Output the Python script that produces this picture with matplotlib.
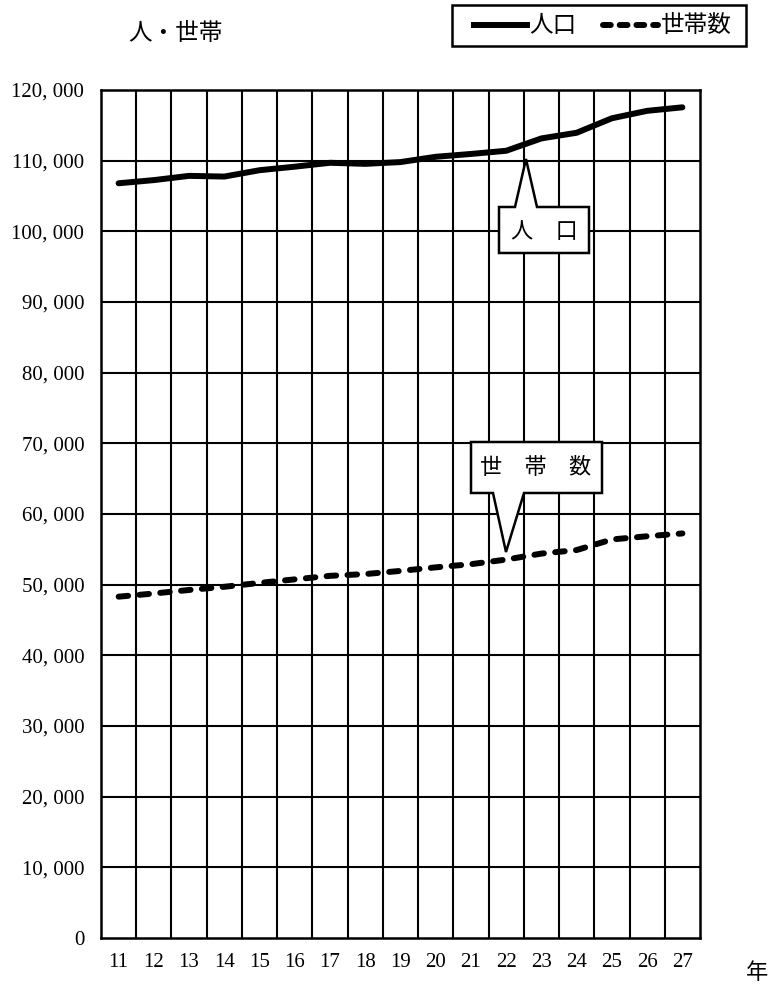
import matplotlib
matplotlib.use("Agg")
import matplotlib.pyplot as plt
from matplotlib.patches import Polygon, Rectangle
from matplotlib.lines import Line2D

plt.rcParams['font.family'] = ['Noto Sans CJK JP', 'DejaVu Sans']

years = [11, 12, 13, 14, 15, 16, 17, 18, 19, 20, 21, 22, 23, 24, 25, 26, 27]
year_labels = [str(y) for y in years]
population = [106800, 107250, 107850, 107750, 108650, 109150, 109700, 109550, 109800,
              110550, 110950, 111400, 113150, 113950, 116000, 117050, 117550]
households = [48300, 48750, 49250, 49700, 50250, 50750, 51250, 51500, 51950,
              52450, 52900, 53550, 54400, 54900, 56400, 56850, 57250]
y_ticks = list(range(0, 120001, 10000))
y_tick_labels = ["0"] + [f"{v // 1000}, 000" for v in y_ticks[1:]]

W, H = 771, 988
fig = plt.figure(figsize=(W / 100, H / 100), dpi=100)
fig.patch.set_facecolor('white')

def fx(px):
    return px / W

def fy(py):
    return 1 - py / H

L, R, T, B = 101, 700, 90, 938
ax = fig.add_axes([fx(L), fy(B), fx(R) - fx(L), fy(T) - fy(B)])

n = len(years)
xpos = list(range(n))
ax.set_xlim(-0.5, n - 0.5)
ax.set_ylim(0, 120000)

# grid
for i in range(1, n):
    ax.axvline(i - 0.5, color='black', lw=1.5, zorder=1)
for v in y_ticks[1:-1]:
    ax.axhline(v, color='black', lw=1.5, zorder=1)
for s in ax.spines.values():
    s.set_linewidth(1.8)
    s.set_color('black')

ax.plot(xpos, population, color='black', lw=4.3, solid_capstyle='round',
        solid_joinstyle='round', zorder=3)
ax.plot(xpos, households, color='black', lw=4.3, dashes=(1.6, 1.9),
        dash_capstyle='round', zorder=3)

serif = 'Liberation Serif'
ax.set_xticks(xpos)
ax.set_xticklabels(year_labels, fontfamily=serif, fontsize=15)
ax.set_yticks(y_ticks)
ax.set_yticklabels(y_tick_labels, fontfamily=serif, fontsize=15)
ax.tick_params(length=0, pad=12)
ax.tick_params(axis='x', pad=11)

# callouts (pixel-positioned shapes)
def callout(box, base, apex, text, tx, ty, fs):
    x0, y0, x1, y1 = box
    bx0, bx1, by = base
    if apex[1] < y0:  # pointer up
        pts = [(x0, y0), (bx0, y0), apex, (bx1, y0), (x1, y0), (x1, y1), (x0, y1)]
    else:
        pts = [(x0, y0), (x1, y0), (x1, y1), (bx1, y1), apex, (bx0, y1), (x0, y1)]
    poly = Polygon([(fx(a), fy(b)) for a, b in pts], closed=True,
                   transform=fig.transFigure, facecolor='white',
                   edgecolor='black', lw=1.8, zorder=5)
    fig.patches.append(poly)
    fig.text(fx(tx), fy(ty), text, ha='center', va='center', fontsize=fs, zorder=6)

callout((499, 207, 589, 253), (515, 537, 207), (526, 159), "人　口", 544, 231, 16)
callout((471, 442, 602, 493), (493, 524, 493), (506, 552), "世　帯　数", 536, 468, 16)

# top-left label
fig.text(fx(128), fy(34), "人・世帯", ha='left', va='center', fontsize=17)
# x unit
fig.text(fx(757), fy(972), "年", ha='center', va='center', fontsize=16)

# legend box
fig.patches.append(Rectangle((fx(452), fy(46)), fx(746) - fx(452), fy(5) - fy(46),
                             transform=fig.transFigure, facecolor='white',
                             edgecolor='black', lw=1.8))
fig.lines.append(Line2D([fx(474), fx(527)], [fy(25), fy(25)], transform=fig.transFigure,
                        color='black', lw=4.3))
fig.text(fx(529), fy(26), "人口", ha='left', va='center', fontsize=17)
fig.lines.append(Line2D([fx(603), fx(658)], [fy(25), fy(25)], transform=fig.transFigure,
                        color='black', lw=4.3, dashes=(1.3, 1.5), dash_capstyle='round'))
fig.text(fx(661), fy(26), "世帯数", ha='left', va='center', fontsize=17)

fig.savefig("out.png", dpi=100, facecolor='white')
